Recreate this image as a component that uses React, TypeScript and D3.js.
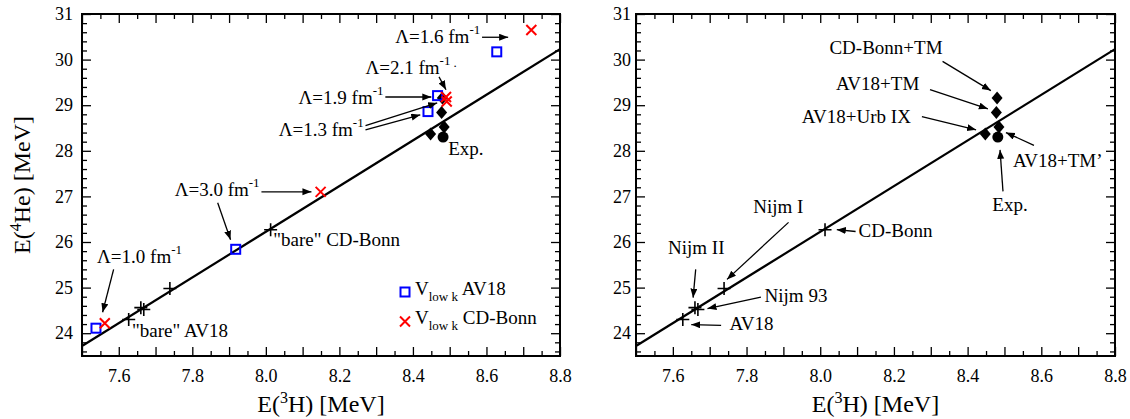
import React, { useRef, useEffect } from "react";
import * as d3 from "d3";

// binding energies, [E(3H), E(4He)] in MeV
const vlowkAV18 = [
  [7.538, 24.11],
  [7.918, 25.84],
  [8.441, 28.86],
  [8.467, 29.21],
  [8.628, 30.17]
];
const vlowkCDBonn = [
  [7.562, 24.22],
  [8.149, 27.1],
  [8.49, 29.18],
  [8.492, 29.08],
  [8.722, 30.65]
];
// AV18, Nijm II, Nijm 93, Nijm I, CD-Bonn
const bareNN = [
  [7.627, 24.3],
  [7.66, 24.56],
  [7.668, 24.52],
  [7.739, 24.98],
  [8.013, 26.27]
];
// CD-Bonn+TM, AV18+TM, AV18+TM', AV18+Urb IX
const withNNN = [
  [8.48, 29.16],
  [8.478, 28.84],
  [8.485, 28.52],
  [8.448, 28.37]
];
const experiment = [[8.482, 28.3]];
const tjonLine = [
  [7.5, 23.72],
  [8.8, 30.23]
];
const xTickLabels = [7.6, 7.8, 8.0, 8.2, 8.4, 8.6, 8.8];
const yTickLabels = [24, 25, 26, 27, 28, 29, 30, 31];

interface Note {
  label: string;
  sup?: string;
  tail?: string;
  x: number;
  y: number;
  anchor?: string;
  arrows?: number[][];
}

// annotation text (start, baseline) and arrows, in data units
const leftNotes: Note[] = [
  { label: "Λ=1.6 fm", sup: "-1", x: 8.352, y: 30.365, arrows: [[8.588, 30.49, 8.659, 30.49]] },
  { label: "Λ=2.1 fm", sup: "-1", tail: ".", x: 8.271, y: 29.69, arrows: [[8.471, 29.62, 8.49, 29.34]] },
  { label: "Λ=1.9 fm", sup: "-1", x: 8.089, y: 29.03, arrows: [[8.325, 29.18, 8.45, 29.18]] },
  {
    label: "Λ=1.3 fm",
    sup: "-1",
    x: 8.035,
    y: 28.33,
    arrows: [
      [8.271, 28.55, 8.466, 29.05],
      [8.271, 28.46, 8.42, 28.79]
    ]
  },
  { label: "Exp.", x: 8.496, y: 27.91 },
  {
    label: "Λ=3.0 fm",
    sup: "-1",
    x: 7.752,
    y: 27.0,
    arrows: [
      [7.988, 27.1, 8.124, 27.1],
      [7.869, 26.86, 7.904, 26.05]
    ]
  },
  { label: "\"bare\" CD-Bonn", x: 8.02, y: 25.92 },
  { label: "Λ=1.0 fm", sup: "-1", x: 7.541, y: 25.55, arrows: [[7.586, 25.4, 7.556, 24.46]] },
  { label: "\"bare\" AV18", x: 7.636, y: 23.91 }
];

const rightNotes: Note[] = [
  { label: "CD-Bonn+TM", x: 8.025, y: 30.125, arrows: [[8.332, 29.96, 8.463, 29.32]] },
  { label: "AV18+TM", x: 8.043, y: 29.34, arrows: [[8.298, 29.34, 8.455, 28.92]] },
  { label: "AV18+Urb IX", x: 7.95, y: 28.61, arrows: [[8.276, 28.75, 8.423, 28.46]] },
  { label: "AV18+TM’", x: 8.523, y: 27.65, arrows: [[8.58, 28.12, 8.504, 28.4]] },
  { label: "Exp.", x: 8.515, y: 26.69, anchor: "middle", arrows: [[8.496, 27.11, 8.488, 28.02]] },
  { label: "CD-Bonn", x: 8.104, y: 26.1, arrows: [[8.096, 26.23, 8.045, 26.27]] },
  { label: "Nijm I", x: 7.818, y: 26.645, arrows: [[7.914, 26.43, 7.747, 25.18]] },
  { label: "Nijm II", x: 7.587, y: 25.73, arrows: [[7.662, 25.4, 7.655, 24.78]] },
  { label: "Nijm 93", x: 7.849, y: 24.68, arrows: [[7.839, 24.79, 7.694, 24.54]] },
  { label: "AV18", x: 7.754, y: 24.06, arrows: [[7.731, 24.17, 7.65, 24.19]] }
];

const FONT = "'Liberation Serif', 'Times New Roman', serif";
const WIDTH = 1130,
  HEIGHT = 419;
const TOP = 14,
  BOTTOM = 356;

const drawPanel = (svg: any, x0: number, x1: number, notes: Note[], isLeft: boolean) => {
  const x = d3.scaleLinear().domain([7.5, 8.8]).range([x0, x1]);
  const y = d3.scaleLinear().domain([23.5, 31]).range([BOTTOM, TOP]);
  const g = svg.append("g");

  const xMajor = d3.range(7.5, 8.8001, 0.1).map(v => +v.toFixed(2));
  const xMinor = d3.range(7.55, 8.8, 0.1).map(v => +v.toFixed(2));
  const yMajor = d3.range(24, 31.001, 1);
  const yMinor = d3.range(23.6, 31, 0.2).map(v => +v.toFixed(1)).filter(v => v % 1 !== 0);

  const styleAxis = (a: any) => {
    a.select(".domain").remove();
    a.attr("font-family", FONT).attr("font-size", 18);
    a.selectAll("line").attr("stroke", "#000").attr("stroke-width", 1.3);
    a.selectAll("text").attr("fill", "#000");
  };

  // bottom
  g.append("g")
    .attr("transform", `translate(0,${BOTTOM})`)
    .call(d3.axisBottom(x).tickValues(xMinor).tickSize(-5).tickFormat(() => ""))
    .call(styleAxis);
  g.append("g")
    .attr("transform", `translate(0,${BOTTOM})`)
    .call(d3.axisBottom(x).tickValues(xMajor).tickSize(-9).tickFormat(() => ""))
    .call(styleAxis);
  g.append("g")
    .attr("transform", `translate(0,${BOTTOM})`)
    .call(d3.axisBottom(x).tickValues(xTickLabels).tickSize(0).tickPadding(13).tickFormat(d3.format(".1f")))
    .call(styleAxis);
  // top
  g.append("g")
    .attr("transform", `translate(0,${TOP})`)
    .call(d3.axisTop(x).tickValues(xMinor).tickSize(-5).tickFormat(() => ""))
    .call(styleAxis);
  g.append("g")
    .attr("transform", `translate(0,${TOP})`)
    .call(d3.axisTop(x).tickValues(xMajor).tickSize(-9).tickFormat(() => ""))
    .call(styleAxis);
  // left
  g.append("g")
    .attr("transform", `translate(${x0},0)`)
    .call(d3.axisLeft(y).tickValues(yMinor).tickSize(-5).tickFormat(() => ""))
    .call(styleAxis);
  g.append("g")
    .attr("transform", `translate(${x0},0)`)
    .call(d3.axisLeft(y).tickValues(yMajor).tickSize(-9).tickPadding(isLeft ? 9 : 5).tickFormat(d3.format("d")))
    .call(styleAxis);
  // right
  g.append("g")
    .attr("transform", `translate(${x1},0)`)
    .call(d3.axisRight(y).tickValues(yMinor).tickSize(-5).tickFormat(() => ""))
    .call(styleAxis);
  g.append("g")
    .attr("transform", `translate(${x1},0)`)
    .call(d3.axisRight(y).tickValues(yMajor).tickSize(-9).tickFormat(() => ""))
    .call(styleAxis);

  g.append("rect")
    .attr("x", x0)
    .attr("y", TOP)
    .attr("width", x1 - x0)
    .attr("height", BOTTOM - TOP)
    .attr("fill", "none")
    .attr("stroke", "#000")
    .attr("stroke-width", 2);

  // x title
  const xt = g
    .append("text")
    .attr("x", (x0 + x1) / 2)
    .attr("y", 412)
    .attr("text-anchor", "middle")
    .attr("font-size", 24);
  xt.append("tspan").text("E(");
  xt.append("tspan").attr("font-size", 16).attr("dy", -9).text("3");
  xt.append("tspan").attr("dy", 9).text("H) [MeV]");

  if (isLeft) {
    const yt = g
      .append("text")
      .attr("transform", `translate(30,${(TOP + BOTTOM) / 2}) rotate(-90)`)
      .attr("text-anchor", "middle")
      .attr("font-size", 24);
    yt.append("tspan").text("E(");
    yt.append("tspan").attr("font-size", 16).attr("dy", -9).text("4");
    yt.append("tspan").attr("dy", 9).text("He) [MeV]");
  }

  // Tjon line
  g.append("path")
    .attr("d", d3.line().x((d: any) => x(d[0])).y((d: any) => y(d[1]))(tjonLine as any))
    .attr("fill", "none")
    .attr("stroke", "#000")
    .attr("stroke-width", 2.2);

  // NN only
  g.selectAll(".plus")
    .data(bareNN)
    .enter()
    .append("path")
    .attr("transform", (d: number[]) => `translate(${x(d[0])},${y(d[1])})`)
    .attr("d", "M-6.5,0H6.5M0,-6.5V6.5")
    .attr("stroke", "#000")
    .attr("stroke-width", 1.6);

  // NN + 3N
  g.selectAll(".diamond")
    .data(withNNN)
    .enter()
    .append("path")
    .attr("transform", (d: number[]) => `translate(${x(d[0])},${y(d[1])})`)
    .attr("d", "M0,-6.5L5.5,0L0,6.5L-5.5,0Z")
    .attr("fill", "#000");

  g.selectAll(".exp")
    .data(experiment)
    .enter()
    .append("circle")
    .attr("cx", (d: number[]) => x(d[0]))
    .attr("cy", (d: number[]) => y(d[1]))
    .attr("r", 5.5)
    .attr("fill", "#000");

  if (isLeft) {
    g.selectAll(".sq")
      .data(vlowkAV18)
      .enter()
      .append("rect")
      .attr("x", (d: number[]) => x(d[0]) - 4.5)
      .attr("y", (d: number[]) => y(d[1]) - 4.5)
      .attr("width", 9)
      .attr("height", 9)
      .attr("fill", "none")
      .attr("stroke", "#0000ff")
      .attr("stroke-width", 2);

    g.selectAll(".cross")
      .data(vlowkCDBonn)
      .enter()
      .append("path")
      .attr("transform", (d: number[]) => `translate(${x(d[0])},${y(d[1])})`)
      .attr("d", "M-5,-5L5,5M-5,5L5,-5")
      .attr("stroke", "#ff0000")
      .attr("stroke-width", 2);

    // legend
    const legend = g.append("g").attr("transform", `translate(${x0 + 323},292)`);
    legend
      .append("rect")
      .attr("x", -4.5)
      .attr("y", -4.5)
      .attr("width", 9)
      .attr("height", 9)
      .attr("fill", "none")
      .attr("stroke", "#0000ff")
      .attr("stroke-width", 2);
    legend
      .append("path")
      .attr("d", "M-5,24.5L5,34.5M-5,34.5L5,24.5")
      .attr("stroke", "#ff0000")
      .attr("stroke-width", 2);
    ["AV18", "CD-Bonn"].forEach((name, i) => {
      const t = legend
        .append("text")
        .attr("x", 10)
        .attr("y", 3 + i * 29)
        .attr("font-size", 19);
      t.append("tspan").text("V");
      t.append("tspan").attr("font-size", 13).attr("dy", 6).text("low k");
      t.append("tspan").attr("dy", -6).text(" " + name);
    });
  }

  // annotations
  notes.forEach(n => {
    const t = g
      .append("text")
      .attr("x", x(n.x))
      .attr("y", y(n.y))
      .attr("font-size", 19)
      .attr("text-anchor", n.anchor || "start");
    t.append("tspan").text(n.label);
    if (n.sup) t.append("tspan").attr("font-size", 13).attr("dy", -9).text(n.sup);
    if (n.tail) t.append("tspan").attr("dx", 3).attr("dy", 2).attr("font-size", 13).text(n.tail);
    (n.arrows || []).forEach(a => {
      g.append("line")
        .attr("x1", x(a[0]))
        .attr("y1", y(a[1]))
        .attr("x2", x(a[2]))
        .attr("y2", y(a[3]))
        .attr("stroke", "#000")
        .attr("stroke-width", 1.3)
        .attr("marker-end", "url(#arrowhead)");
    });
  });
};

const App = () => {
  const node: any = useRef();

  useEffect(() => {
    const svg = d3.select(node.current);
    svg.selectAll("*").remove();
    svg
      .append("defs")
      .append("marker")
      .attr("id", "arrowhead")
      .attr("markerUnits", "userSpaceOnUse")
      .attr("markerWidth", 10)
      .attr("markerHeight", 8)
      .attr("refX", 9)
      .attr("refY", 3.5)
      .attr("orient", "auto")
      .append("path")
      .attr("d", "M0,0L9,3.5L0,7Z")
      .attr("fill", "#000");

    drawPanel(svg, 82, 560, leftNotes, true);
    drawPanel(svg, 636, 1115, rightNotes, false);
  }, []);

  return (
    <svg
      ref={node}
      width={WIDTH}
      height={HEIGHT}
      fontFamily={FONT}
      style={{ position: "absolute", left: 0, top: 0, background: "#fff" }}
    ></svg>
  );
};

export default App;
